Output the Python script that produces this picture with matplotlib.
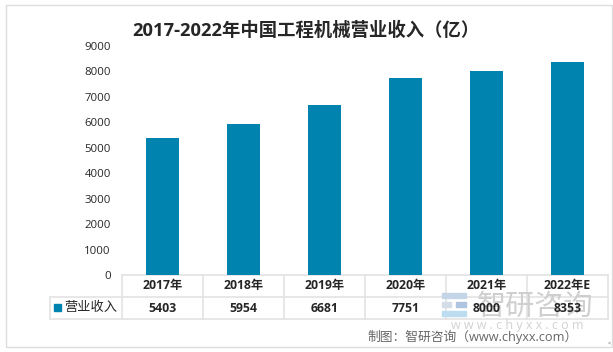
import matplotlib
matplotlib.use('Agg')
import matplotlib.pyplot as plt
from matplotlib.patches import Rectangle

plt.rcParams['font.family'] = ['Open Sans', 'Noto Sans CJK SC', 'DejaVu Sans']

years = ['2017年', '2018年', '2019年', '2020年', '2021年', '2022年E']
revenue = [5403, 5954, 6681, 7751, 8000, 8353]
yticks = [0, 1000, 2000, 3000, 4000, 5000, 6000, 7000, 8000, 9000]
series_name = '营业收入'
title = '2017-2022年中国工程机械营业收入（亿）'
source = '制图：智研咨询（www.chyxx.com）'

W, H = 613, 352
BLUE = '#0083AE'
GRID = '#E3E3E3'
TXT = '#262626'

fig = plt.figure(figsize=(W / 100, H / 100), dpi=100)

# full figure overlay in pixel coords for the frame and data table
bg = fig.add_axes([0, 0, 1, 1])
bg.set_xlim(0, W)
bg.set_ylim(H, 0)
bg.axis('off')
bg.add_patch(Rectangle((5.5, 4.5), 606, 342, fill=False, ec='#DDDDDD', lw=1))

left, right, top, bottom = 122, 608, 46, 275
ax = fig.add_axes([left / W, 1 - bottom / H, (right - left) / W, (bottom - top) / H])
ax.patch.set_alpha(0)
ax.bar(range(len(years)), revenue, width=0.4, color=BLUE)
ax.set_xlim(-0.5, len(years) - 0.5)
ax.set_ylim(0, 9000)
ax.set_yticks(yticks)
ax.tick_params(axis='y', length=0, labelsize=8.2, labelcolor=TXT, pad=8)
ax.set_xticks([])
for s in ax.spines.values():
    s.set_visible(False)

# data table under the axis
row1, row2, row3 = 275, 297, 319
cell = (right - left) / len(years)
for y in (row1, row2, row3):
    x0 = left if y == row1 else 50
    bg.plot([x0, right], [y, y], color=GRID, lw=1.2)
bg.plot([50, 50], [row2, row3], color=GRID, lw=1.2)
for i in range(len(years) + 1):
    x = left + i * cell
    bg.plot([x, x], [row1, row3], color=GRID, lw=1.2)

# watermark sits under the table text
bg.add_patch(Rectangle((442, 293), 24, 5, color='#C5D5E8', zorder=3))
bg.add_patch(Rectangle((442, 302), 9, 5, color='#D5DDE8', zorder=3))
bg.add_patch(Rectangle((456, 302), 10, 5, color='#AFC4DE', zorder=3))
bg.add_patch(Rectangle((442, 311), 24, 5, color='#BCDCF0', zorder=3))
bg.text(535, 307, '智研咨询', ha='center', va='center', fontsize=21, color='#CFCFCF', zorder=3)
bg.text(517, 325, 'w w w . c h y x x . c o m', ha='center', va='center', fontsize=9, color='#D2D2D2', zorder=3)

for i, (yr, v) in enumerate(zip(years, revenue)):
    x = left + (i + 0.5) * cell
    bg.text(x, 286, yr, ha='center', va='center', fontsize=8.8, fontweight='bold', color=TXT, zorder=6)
    bg.text(x, 308, str(v), ha='center', va='center', fontsize=8.8, fontweight='bold', color=TXT, zorder=6)
bg.add_patch(Rectangle((54, 304), 7, 7, color=BLUE))
bg.text(64, 308, series_name, ha='left', va='center', fontsize=9.5, color=TXT)

fig.text(306 / W, 1 - 31 / H, title, ha='center', va='center', fontsize=13.2, fontweight='bold', color=TXT)
bg.text(473, 337, source, ha='center', va='center', fontsize=9.2, color='#666666', zorder=6)
bg.text(609, 343, '<', ha='center', va='center', fontsize=4, color='#555555')

fig.savefig('out.png', dpi=100)
